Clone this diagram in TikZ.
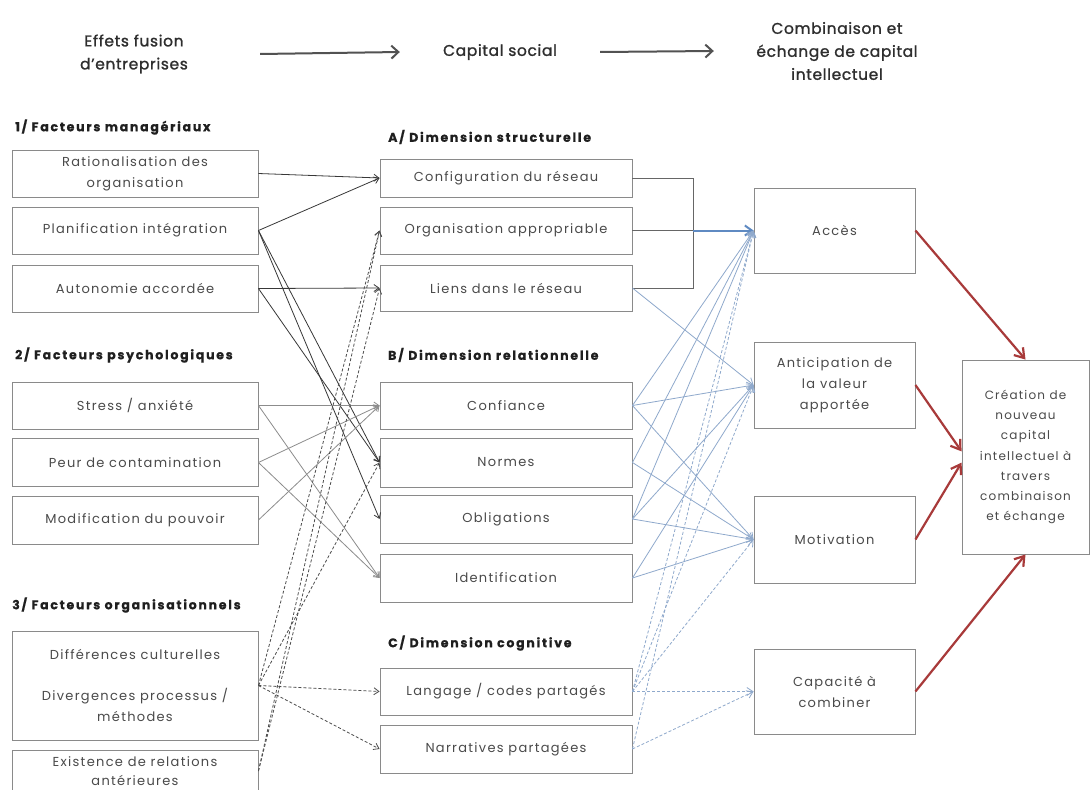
\documentclass[tikz,border=0pt]{standalone}
\usepackage{fontspec}
\setmainfont{Poppins}
\newfontfamily\boxfont[LetterSpace=10]{Poppins}
\newfontfamily\hdfont[LetterSpace=14,FakeBold=0.6]{Poppins}
\newfontfamily\ttlfont[LetterSpace=4,FakeBold=1.2]{Poppins}
\usetikzlibrary{arrows.meta}
\definecolor{bord}{HTML}{8A8A8A}
\definecolor{txt}{HTML}{4A4A4A}
\definecolor{bluel}{HTML}{8FA9CC}
\definecolor{blued}{HTML}{5F8AC2}
\definecolor{redc}{HTML}{A83A3A}
\tikzset{
  box/.style={draw=bord, line width=0.9pt, text=txt, font=\boxfont\fontsize{13}{21}\selectfont, align=center, inner sep=0pt},
  hd/.style={font=\hdfont\bfseries\fontsize{12.5}{12}\selectfont, text=black!88, anchor=west, inner sep=0pt},
  ttl/.style={font=\ttlfont\fontsize{15.5}{23}\selectfont, text=black!82, align=center, inner sep=0pt},
  harr/.style={draw=black!68, line width=2pt, -{Straight Barb[length=7pt,width=13pt]}},
  blk/.style={draw=black!78, line width=0.8pt, -{Straight Barb[length=5pt,width=7pt]}},
  psy/.style={draw=black!45, line width=0.8pt, -{Straight Barb[length=5pt,width=7pt]}},
  dsh/.style={draw=black!70, line width=0.8pt, dash pattern=on 3pt off 2pt, -{Straight Barb[length=5pt,width=7pt]}},
  brk/.style={draw=black!60, line width=0.8pt},
  blu/.style={draw=bluel, line width=0.8pt, -{Straight Barb[length=6pt,width=8pt]}},
  bdsh/.style={blu, dash pattern=on 3pt off 2pt},
  bthick/.style={draw=blued, line width=2pt, -{Straight Barb[length=7pt,width=10pt]}},
  redarr/.style={draw=redc, line width=2.2pt, -{Straight Barb[length=9pt,width=12pt]}}
}
\begin{document}
\begin{tikzpicture}[x=1pt,y=-1pt]
\clip (0,0) rectangle (1091,789);
\fill[white] (0,0) rectangle (1091,789);

% header
\node[ttl, minimum width=252pt] (eff) at (134,54) {Effets fusion\\d’entreprises};
\node[ttl, minimum width=200pt] (cap) at (500,52) {Capital social};
\node[ttl, minimum width=246pt] (comb) at (837,51) {Combinaison et\\échange de capital\\intellectuel};
\draw[harr] (eff.east) -- (cap.west);
\draw[harr] (cap.east) -- (comb.west);

% headings
\node[hd] (h1) at (15,127) {1/ Facteurs managériaux};
\node[hd] (h2) at (15,355) {2/ Facteurs psychologiques};
\node[hd] (h3) at (12,605) {3/ Facteurs organisationnels};
\node[hd] (ha) at (388,137) {A/ Dimension structurelle};
\node[hd] (hb) at (388,355) {B/ Dimension relationnelle};
\node[hd] (hc) at (388,643) {C/ Dimension cognitive};

% left column
\node[box, minimum width=246pt, minimum height=47pt] (rat) at (135,173.5) {Rationalisation des\\organisation};
\node[box, minimum width=246pt, minimum height=47pt] (plan) at (135,230.5) {Planification intégration};
\node[box, minimum width=246pt, minimum height=47pt] (auto) at (135,288.5) {Autonomie accordée};
\node[box, minimum width=246pt, minimum height=47pt] (stress) at (135,405.5) {Stress / anxiété};
\node[box, minimum width=246pt, minimum height=48pt] (peur) at (135,462.5) {Peur de contamination};
\node[box, minimum width=246pt, minimum height=48pt] (modif) at (135,520) {Modification du pouvoir};
\node[box, minimum width=246pt, minimum height=109pt] (big) at (135,685.5) {Différences culturelles\\[20pt]Divergences processus /\\méthodes};
\node[box, minimum width=246pt, minimum height=42pt, font=\boxfont\fontsize{13}{19}\selectfont] (exist) at (135,771) {Existence de relations\\antérieures};

% middle column
\node[box, minimum width=252pt, minimum height=38pt] (config) at (506,178) {Configuration du réseau};
\node[box, minimum width=252pt, minimum height=47pt] (org) at (506,230.5) {Organisation appropriable};
\node[box, minimum width=252pt, minimum height=46pt] (liens) at (506,288) {Liens dans le réseau};
\node[box, minimum width=252pt, minimum height=47pt] (conf) at (506,405.5) {Confiance};
\node[box, minimum width=252pt, minimum height=49pt] (normes) at (506,462.5) {Normes};
\node[box, minimum width=252pt, minimum height=48pt] (oblig) at (506,519) {Obligations};
\node[box, minimum width=252pt, minimum height=48pt] (ident) at (506,578) {Identification};
\node[box, minimum width=252pt, minimum height=47pt] (lang) at (506,691.5) {Langage / codes partagés};
\node[box, minimum width=252pt, minimum height=48pt] (narr) at (506,749) {Narratives partagées};

% right column
\node[box, minimum width=161pt, minimum height=85pt] (acces) at (834.5,230.5) {Accès};
\node[box, minimum width=161pt, minimum height=86pt] (antic) at (834.5,385) {Anticipation de\\la valeur\\apportée};
\node[box, minimum width=161pt, minimum height=87pt] (motiv) at (834.5,539.5) {Motivation};
\node[box, minimum width=161pt, minimum height=85pt] (capa) at (834.5,691.5) {Capacité à\\combiner};
\node[box, minimum width=127pt, minimum height=194pt, font=\boxfont\fontsize{12}{20.3}\selectfont] (crea) at (1025.5,457) {Création de\\nouveau\\capital\\intellectuel à\\travers\\combinaison\\et échange};

% managerial connectors
\draw[blk] (rat.east) -- (config.west);
\draw[blk] (plan.east) -- (config.west);
\draw[blk] (plan.east) -- (normes.west);
\draw[blk] (plan.east) -- (oblig.west);
\draw[blk] (auto.east) -- (liens.west);
\draw[blk] (auto.east) -- (normes.west);

% psychological connectors
\draw[psy] (stress.east) -- (conf.west);
\draw[psy] (stress.east) -- (ident.west);
\draw[psy] (peur.east) -- (conf.west);
\draw[psy] (peur.east) -- (ident.west);
\draw[psy] (modif.east) -- (conf.west);

% organisational connectors
\draw[dsh] (big.east) -- (org.west);
\draw[dsh] (big.east) -- (normes.west);
\draw[dsh] (big.east) -- (lang.west);
\draw[dsh] (big.east) -- (narr.west);
\draw[dsh] (exist.east) -- (org.west);
\draw[dsh] (exist.east) -- (liens.west);

% structural bracket
\coordinate (bk) at (693,230.5);
\draw[brk] (config.east) -| (bk) |- (liens.east);
\draw[brk] (org.east) -- (bk);
\draw[bthick] (bk) -- (acces.west);
\draw[blu] (liens.east) -- (antic.west);

% relational connectors
\draw[blu] (conf.east) -- (acces.west);
\draw[blu] (conf.east) -- (antic.west);
\draw[blu] (conf.east) -- (motiv.west);
\draw[blu] (normes.east) -- (acces.west);
\draw[blu] (normes.east) -- (motiv.west);
\draw[blu] (oblig.east) -- (acces.west);
\draw[blu] (oblig.east) -- (antic.west);
\draw[blu] (oblig.east) -- (motiv.west);
\draw[blu] (ident.east) -- (antic.west);
\draw[blu] (ident.east) -- (motiv.west);

% cognitive connectors
\draw[bdsh] (lang.east) -- (acces.west);
\draw[bdsh] (lang.east) -- (antic.west);
\draw[bdsh] (lang.east) -- (motiv.west);
\draw[bdsh] (lang.east) -- (capa.west);
\draw[bdsh] (narr.east) -- (acces.west);
\draw[bdsh] (narr.east) -- (capa.west);

% outcome connectors
\draw[redarr] (acces.east) -- (crea.north);
\draw[redarr] (antic.east) -- (crea.175);
\draw[redarr] (motiv.east) -- (crea.185);
\draw[redarr] (capa.east) -- (crea.south);
\end{tikzpicture}
\end{document}
